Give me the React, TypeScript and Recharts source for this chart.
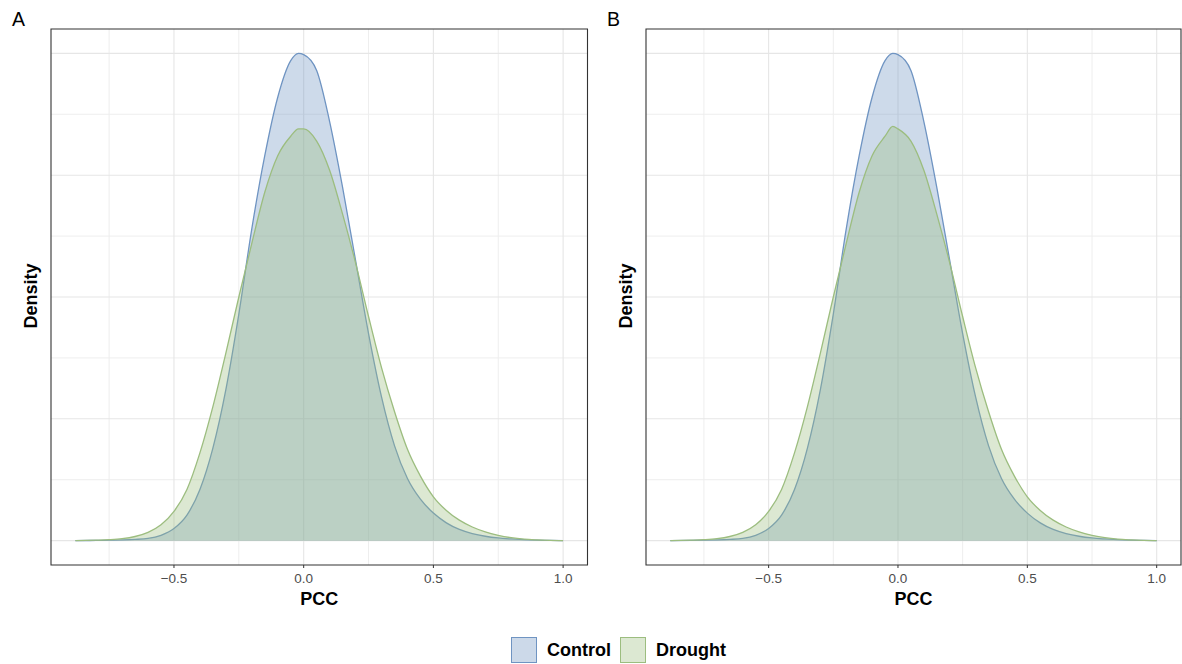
import React from 'react';
import { AreaChart, Area, XAxis, YAxis, CartesianGrid, ReferenceArea } from 'recharts';

// PCC grid the densities were read on
const pcc = [
  -0.88, -0.8, -0.75, -0.7, -0.65, -0.6, -0.55, -0.5, -0.45, -0.4, -0.35, -0.3, -0.25,
  -0.2, -0.15, -0.1, -0.05, -0.02, 0, 0.05, 0.1, 0.15, 0.2, 0.25, 0.3, 0.35, 0.4,
  0.45, 0.5, 0.55, 0.6, 0.65, 0.7, 0.75, 0.8, 0.85, 0.9, 0.95, 1.0,
];

// Panel A densities
const controlA = [
  0, 0.001, 0.002, 0.003, 0.005, 0.009, 0.022, 0.05, 0.105, 0.21, 0.38, 0.62, 0.93,
  1.28, 1.58, 1.82, 1.97, 2.0, 1.995, 1.93, 1.72, 1.45, 1.15, 0.85, 0.59, 0.39, 0.255,
  0.17, 0.113, 0.073, 0.046, 0.029, 0.018, 0.011, 0.007, 0.004, 0.002, 0.001, 0,
];
const droughtA = [
  0, 0.002, 0.004, 0.008, 0.017, 0.034, 0.065, 0.12, 0.21, 0.36, 0.55, 0.77, 1.0,
  1.22, 1.43, 1.58, 1.66, 1.69, 1.69, 1.64, 1.52, 1.34, 1.14, 0.92, 0.71, 0.53, 0.375,
  0.265, 0.18, 0.124, 0.084, 0.056, 0.036, 0.022, 0.012, 0.006, 0.003, 0.001, 0,
];

// Panel B densities
const controlB = [
  0, 0.001, 0.002, 0.003, 0.005, 0.009, 0.022, 0.05, 0.105, 0.21, 0.38, 0.62, 0.93,
  1.28, 1.58, 1.82, 1.97, 2.0, 1.995, 1.93, 1.72, 1.45, 1.15, 0.85, 0.59, 0.39, 0.255,
  0.17, 0.113, 0.073, 0.046, 0.029, 0.018, 0.011, 0.007, 0.004, 0.002, 0.001, 0,
];
const droughtB = [
  0, 0.002, 0.004, 0.008, 0.017, 0.034, 0.065, 0.12, 0.21, 0.36, 0.55, 0.77, 1.0,
  1.22, 1.43, 1.58, 1.66, 1.7, 1.69, 1.64, 1.52, 1.34, 1.14, 0.92, 0.71, 0.53, 0.375,
  0.265, 0.18, 0.124, 0.084, 0.056, 0.036, 0.022, 0.012, 0.006, 0.003, 0.001, 0,
];

const xTicks = [-0.5, 0, 0.5, 1];
const xMinor = [-0.75, -0.25, 0.25, 0.75];
const yMajor = [0, 0.5, 1, 1.5, 2];
const yMinor = [0.25, 0.75, 1.25, 1.75];
const groups = ['Control', 'Drought'];

const X_DOMAIN = [-0.974, 1.094];
const Y_DOMAIN = [-0.1, 2.1];
const COLORS: Record<string, string> = { Control: '#6f94c2', Drought: '#9cbd7f' };
const FILL_OPACITY = 0.35;
const FONT = '"Liberation Sans", Arial, Helvetica, sans-serif';

const fmt = (v: number) => (v < 0 ? '\u2212' : '') + Math.abs(v).toFixed(1);

function Panel({ label, control, drought, left, width, mLeft, mRight }: any) {
  const rows = pcc.map((x, i) => ({ pcc: x, Control: control[i], Drought: drought[i] }));
  const plotL = left + mLeft;
  const plotW = width - mLeft - mRight;
  return (
    <>
      <div style={{ position: 'absolute', left, top: 0 }}>
        <AreaChart
          width={width}
          height={640}
          data={rows}
          margin={{ top: 29, right: mRight, bottom: 45, left: mLeft }}
        >
          <CartesianGrid horizontalValues={yMinor} verticalValues={xMinor} stroke="#eeeeee" strokeWidth={1} />
          <CartesianGrid horizontalValues={yMajor} verticalValues={xTicks} stroke="#e6e6e6" strokeWidth={1.1} />
          <XAxis
            dataKey="pcc"
            type="number"
            domain={X_DOMAIN}
            ticks={xTicks}
            allowDataOverflow
            height={30}
            axisLine={false}
            tickLine={{ stroke: '#333333' }}
            tickSize={3}
            tickMargin={5}
            tickFormatter={fmt}
            tick={{ fill: '#4d4d4d', fontSize: 13.5, fontFamily: FONT }}
          />
          <YAxis hide type="number" domain={Y_DOMAIN} allowDataOverflow width={0} />
          {groups.map((g) => (
            <Area
              key={g}
              type="monotone"
              dataKey={g}
              baseValue={0}
              stroke={COLORS[g]}
              strokeWidth={1.3}
              fill={COLORS[g]}
              fillOpacity={FILL_OPACITY}
              dot={false}
              activeDot={false}
              isAnimationActive={false}
            />
          ))}
          <ReferenceArea
            x1={X_DOMAIN[0]}
            x2={X_DOMAIN[1]}
            y1={Y_DOMAIN[0]}
            y2={Y_DOMAIN[1]}
            fill="none"
            stroke="#333333"
            strokeWidth={1.1}
            ifOverflow="visible"
          />
        </AreaChart>
      </div>
      {/* panel tag */}
      <div style={{ position: 'absolute', left: left + 12, top: 10, fontSize: 19.5, lineHeight: '19.5px', color: '#000' }}>
        {label}
      </div>
      {/* y title */}
      <div
        style={{
          position: 'absolute',
          left: left + 31 - 50,
          top: 296 - 9,
          width: 100,
          height: 18,
          lineHeight: '18px',
          fontSize: 18,
          fontWeight: 'bold',
          textAlign: 'center',
          transform: 'rotate(-90deg)',
        }}
      >
        Density
      </div>
      {/* x title */}
      <div
        style={{
          position: 'absolute',
          left: plotL,
          width: plotW,
          top: 590,
          lineHeight: '18px',
          fontSize: 18,
          fontWeight: 'bold',
          textAlign: 'center',
        }}
      >
        PCC
      </div>
    </>
  );
}

export default function App() {
  return (
    <div
      style={{
        position: 'absolute',
        left: 0,
        top: 0,
        width: 1182,
        height: 664,
        background: '#fff',
        fontFamily: FONT,
        overflow: 'hidden',
      }}
    >
      <Panel label="A" control={controlA} drought={droughtA} left={0} width={600} mLeft={51} mRight={12.5} />
      <Panel label="B" control={controlB} drought={droughtB} left={595} width={587} mLeft={51} mRight={1} />

      {/* legend */}
      <div style={{ position: 'absolute', left: 511, top: 636, height: 27, display: 'flex', alignItems: 'center' }}>
        {groups.map((g, i) => (
          <div key={g} style={{ display: 'flex', alignItems: 'center', marginLeft: i === 0 ? 0 : 9 }}>
            <div
              style={{
                width: 24,
                height: 24,
                border: `1.5px solid ${COLORS[g]}`,
                background: COLORS[g] + '5a',
              }}
            />
            <span style={{ marginLeft: 10, fontSize: 18, fontWeight: 'bold', lineHeight: '18px' }}>{g}</span>
          </div>
        ))}
      </div>
    </div>
  );
}
